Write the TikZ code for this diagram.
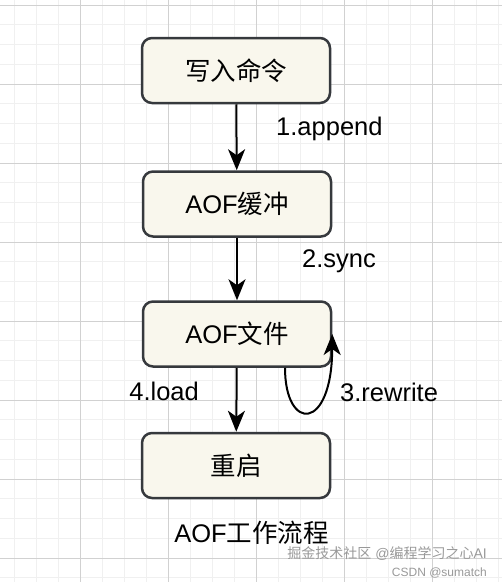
\documentclass[tikz,border=0pt]{standalone}
\usepackage{fontspec}
\setmainfont{Liberation Sans}
\newfontfamily\cjk{Noto Sans CJK SC}
\usetikzlibrary{arrows.meta}
\definecolor{boxfill}{HTML}{F9F7ED}
\definecolor{boxline}{HTML}{36393D}
\tikzset{
  stepbox/.style={draw=boxline, fill=boxfill, line width=2.5pt, rounded corners=10pt,
    minimum width=188pt, minimum height=65pt, font=\fontsize{25.5}{30}\selectfont},
  flow/.style={line width=2pt, -{Stealth[length=21pt, width=17pt, inset=6pt]}},
  lab/.style={inner sep=0pt, font=\fontsize{25.5}{30}\selectfont}
}
\begin{document}
\begin{tikzpicture}[x=1pt, y=-1pt]
        \useasboundingbox (0,0) rectangle (502,582);
        \foreach \x in {0,...,22} {
          \draw[black!6, line width=1pt] (14+22*\x,0) -- (14+22*\x,582);
        }
        \foreach \y in {0,...,29} {
          \draw[black!6, line width=1pt] (0,5+19.75*\y) -- (502,5+19.75*\y);
        }
        \foreach \x in {80,168,256,344,432} {
          \draw[black!18, line width=1pt] (\x,0) -- (\x,582);
        }
        \foreach \y in {5,84,163,242,321,400,479,558} {
          \draw[black!18, line width=1pt] (0,\y) -- (502,\y);
        }
        \node[stepbox] (write) at (236,70.5) {\cjk 写入命令};
        \node[stepbox] (buffer) at (237,204) {AOF{\cjk 缓冲}};
        \node[stepbox] (file) at (237,334) {AOF{\cjk 文件}};
        \node[stepbox] (restart) at (236,465.5) {\cjk 重启};
        \draw[flow] (write) -- (buffer);
        \draw[flow] (buffer) -- (file);
        \draw[flow] (file) -- (restart);
        \draw[flow] ([xshift=48pt]file.south) .. controls (285,432) and (332,432) .. (file.east);
        \node[lab, anchor=west] (append) at (276,129) {1.append};
        \node[lab, anchor=west] (sync) at (302,261) {2.sync};
        \node[lab, anchor=west] (rewrite) at (340,392) {3.rewrite};
        \node[lab, anchor=east] (load) at (199,391) {4.load};
        \node[lab] (title) at (251.5,533) {AOF{\cjk 工作流程}};
        \node[inner sep=0pt, anchor=east, black!40, font=\fontsize{14}{16}\selectfont] (mark) at (487,554) {{\cjk 掘金技术社区} @{\cjk 编程学习之心}AI};
        \node[inner sep=0pt, anchor=east, black!40, font=\fontsize{12}{14}\selectfont] (csdn) at (487,573) {CSDN @sumatch};
      \end{tikzpicture}
\end{document}
